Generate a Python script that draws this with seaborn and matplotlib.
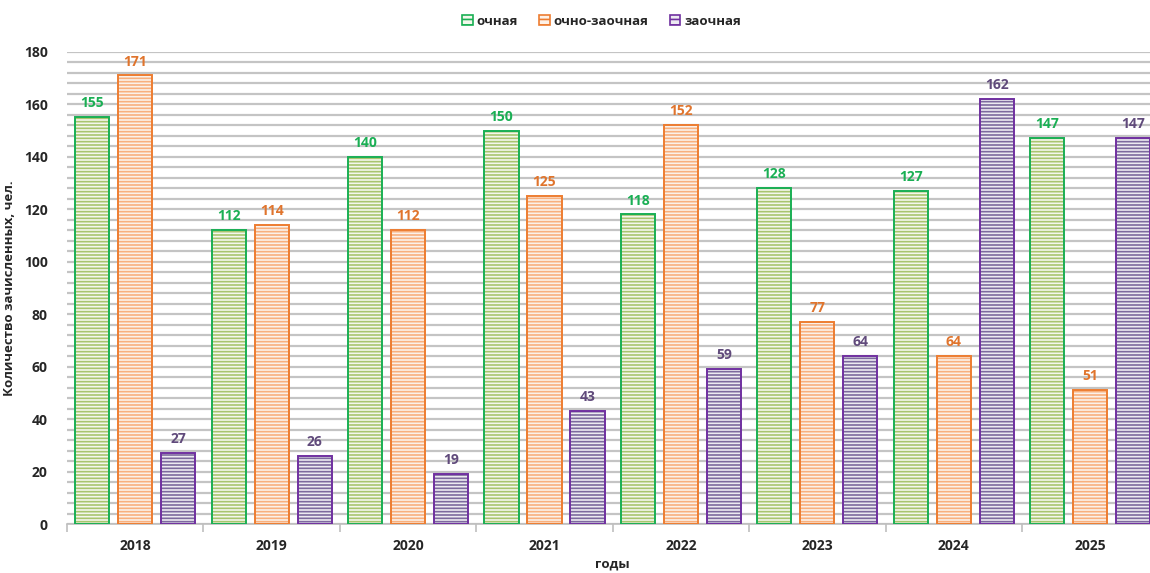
import matplotlib
matplotlib.use("Agg")
import matplotlib.pyplot as plt
from matplotlib.patches import Patch
from matplotlib.ticker import MultipleLocator, FixedLocator
import seaborn as sns
import pandas as pd

years = ["2018", "2019", "2020", "2021", "2022", "2023", "2024", "2025"]
forms = ["очная", "очно-заочная", "заочная"]
full_time = [155, 112, 140, 150, 118, 128, 127, 147]
part_time = [171, 114, 112, 125, 152, 77, 64, 51]
extramural = [27, 26, 19, 43, 59, 64, 162, 147]

edge_colors = ["#1AAF54", "#ED7D31", "#7030A0"]
stripe_colors = ["#A9C56E", "#F8B07E", "#7D6A9E"]
face_colors = ["#F4F8EC", "#FEF1E7", "#EDEAF2"]
label_colors = ["#1AAF54", "#E0742C", "#604A7B"]

df = pd.DataFrame({
    "год": years * 3,
    "форма": [f for f in forms for _ in years],
    "чел": full_time + part_time + extramural,
})

sns.set_theme(style="white")
plt.rcParams["font.family"] = ["Open Sans", "DejaVu Sans"]
plt.rcParams["hatch.linewidth"] = 1.2

fig = plt.figure(figsize=(11.5, 5.73), dpi=100)
ax = fig.add_axes([0.0583, 0.0855, 0.949, 0.824])

# Striped fill layer
sns.barplot(data=df, x="год", y="чел", hue="форма", hue_order=forms,
            palette=face_colors, width=0.945, gap=0.206, ax=ax,
            legend=False, linewidth=0, zorder=2)
for cont, sc in zip(ax.containers, stripe_colors):
    for p in cont:
        p.set_hatch("-----")
        p.set_edgecolor(sc)
        p.set_linewidth(0)

n_fill = len(ax.containers)

# Outline layer
sns.barplot(data=df, x="год", y="чел", hue="форма", hue_order=forms,
            palette=edge_colors, width=0.945, gap=0.206, ax=ax,
            legend=False, fill=False, linewidth=1.4, zorder=3)

series = [full_time, part_time, extramural]
for cont, vals, lc in zip(ax.containers[n_fill:], series, label_colors):
    ax.bar_label(cont, labels=[str(v) for v in vals], padding=5,
                 color=lc, fontweight="bold", fontsize=10)

ax.set_ylim(0, 180)
ax.set_xlim(-0.5, len(years) - 0.5)
ax.yaxis.set_major_locator(MultipleLocator(20))
ax.yaxis.set_minor_locator(MultipleLocator(4))
ax.grid(axis="y", which="both", color="#C4C4C4", linewidth=1.6, zorder=0)
ax.set_axisbelow(True)

ax.xaxis.set_minor_locator(FixedLocator([i - 0.5 for i in range(len(years) + 1)]))
ax.tick_params(axis="x", which="major", length=0, pad=11, labelsize=10)
ax.tick_params(axis="x", which="minor", length=6, color="#BFBFBF", width=1.2, bottom=True)
ax.tick_params(axis="y", which="both", length=0, labelsize=10, pad=14)
for lbl in ax.get_xticklabels() + ax.get_yticklabels():
    lbl.set_fontweight("bold")

for side in ["left", "right", "top"]:
    ax.spines[side].set_visible(False)
ax.spines["bottom"].set_color("#BFBFBF")
ax.spines["bottom"].set_linewidth(1.2)

ax.set_xlabel("годы", fontweight="bold", fontsize=9.5)
ax.set_ylabel("Количество зачисленных, чел.", fontweight="bold", fontsize=9.5)
ax.xaxis.set_label_coords(0.5, -0.07)
ax.yaxis.set_label_coords(-0.047, 0.5)

handles = [Patch(facecolor=fc, edgecolor=ec, hatch="---", linewidth=1.2)
           for fc, ec in zip(face_colors, edge_colors)]
fig.legend(handles, forms, loc="upper center", bbox_to_anchor=(0.523, 0.995),
           ncol=3, frameon=False, prop={"weight": "bold", "size": 9.5},
           handlelength=0.8, handleheight=0.8, columnspacing=1.6, handletextpad=0.3)

fig.savefig("out.png", dpi=100)
